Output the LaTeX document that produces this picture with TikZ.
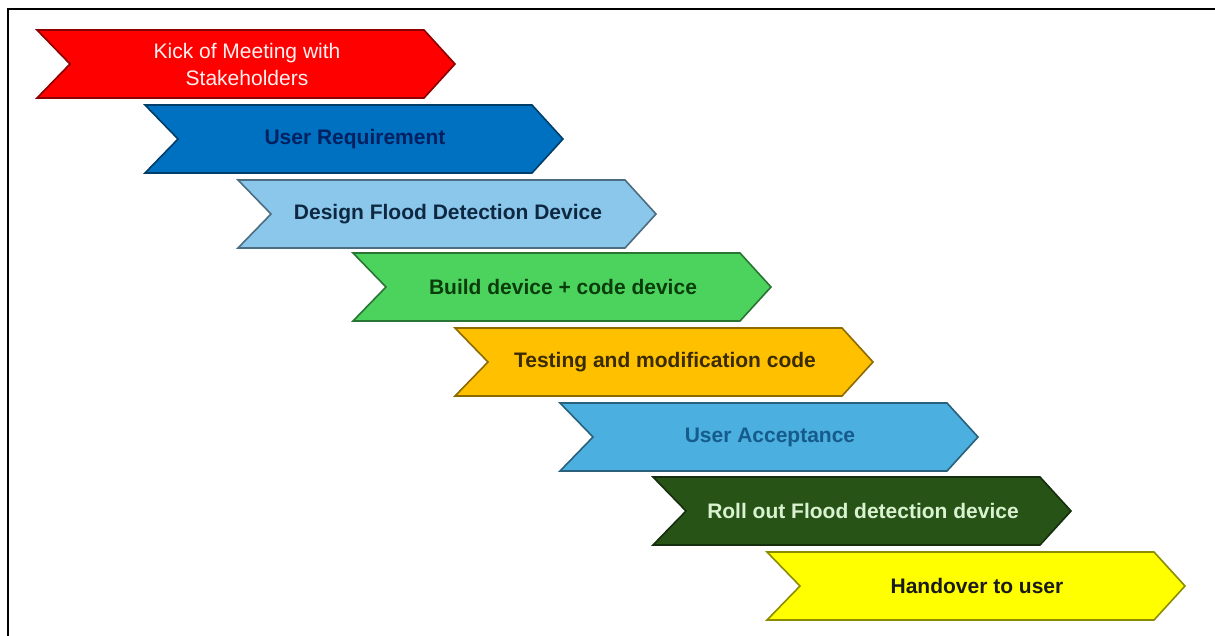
\documentclass[tikz,border=0pt]{standalone}
\usepackage{fontspec}
\setmainfont{Liberation Sans}
\definecolor{cRed}{HTML}{FF0000}
\definecolor{cBlue}{HTML}{0070C0}
\definecolor{cBlueT}{HTML}{002060}
\definecolor{cLight}{HTML}{8AC7EA}
\definecolor{cLightT}{HTML}{0E2841}
\definecolor{cGreen}{HTML}{4CD35E}
\definecolor{cGreenT}{HTML}{0B3D0B}
\definecolor{cAmber}{HTML}{FFC000}
\definecolor{cAmberT}{HTML}{3B2C00}
\definecolor{cSky}{HTML}{4BAFE0}
\definecolor{cSkyT}{HTML}{155C8C}
\definecolor{cDark}{HTML}{275317}
\definecolor{cDarkT}{HTML}{D9F2D0}
\definecolor{cYellow}{HTML}{FFFF00}
\definecolor{cYellowT}{HTML}{1A1A1A}
\definecolor{cWhiteT}{HTML}{FFF0F0}
\tikzset{
  chev/.style={line width=1.6pt, line join=miter},
  lbl/.style={font=\fontsize{21}{27}\selectfont\bfseries, align=center, inner sep=0pt},
  lblreg/.style={font=\fontsize{21}{27}\selectfont, align=center, inner sep=0pt},
}
\newcommand\mychev[7]{%
  \filldraw[chev, fill=#4, draw=#4!55!black] (#2,#3) -- ++(387,0) -- ++(31,34) -- ++(-31,34) -- ++(-387,0) -- ++(33,-34) -- cycle;
  \node[#7, text=#5] (#1) at (#2+210,#3+34) {#6};
}
\begin{document}
\begin{tikzpicture}[x=1pt,y=-1pt]
\useasboundingbox (0,0) rectangle (1215,635);
\fill[white] (0,0) rectangle (1215,635);
\draw[line width=2pt, black] (8,640) -- (8,9) -- (1220,9);
\mychev{s1}{37}{30}{cRed}{cWhiteT}{Kick of Meeting with\\Stakeholders}{lblreg}
\mychev{s2}{145}{105}{cBlue}{cBlueT}{User Requirement}{lbl}
\mychev{s3}{238}{180}{cLight}{cLightT}{Design Flood Detection Device}{lbl}
\mychev{s4}{353}{253}{cGreen}{cGreenT}{Build device + code device}{lbl}
\mychev{s5}{455}{328}{cAmber}{cAmberT}{Testing and modification code}{lbl}
\mychev{s6}{560}{403}{cSky}{cSkyT}{User Acceptance}{lbl}
\mychev{s7}{653}{477}{cDark}{cDarkT}{Roll out Flood detection device}{lbl}
\mychev{s8}{767}{552}{cYellow}{cYellowT}{Handover to user}{lbl}
\end{tikzpicture}
\end{document}
